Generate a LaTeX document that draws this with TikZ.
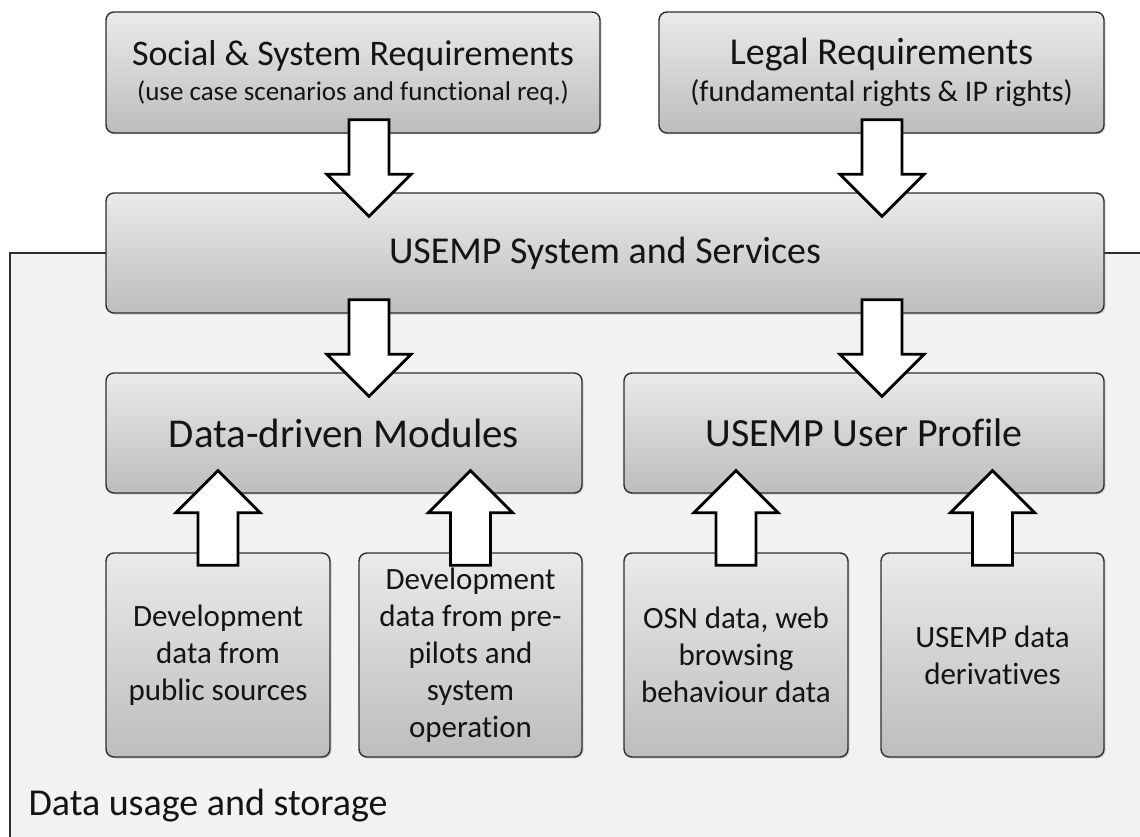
\documentclass[tikz,border=0pt]{standalone}
\usepackage{fontspec}
\setmainfont[Ligatures={NoCommon,NoRare}]{Carlito}
\usetikzlibrary{calc,shadows}
\definecolor{boxtop}{HTML}{EAEAEA}
\definecolor{boxbot}{HTML}{BDBDBD}
\definecolor{framebg}{HTML}{F2F2F2}
\definecolor{edge}{HTML}{2E2E2E}
\definecolor{ink}{HTML}{141414}
\tikzset{
  boxnode/.style={draw=edge,line width=1.4pt,rounded corners=8pt,top color=boxtop,bottom color=boxbot,
    text=ink,align=center,inner sep=0pt,
    drop shadow={shadow xshift=1.5pt,shadow yshift=-1.5pt,opacity=.3}},
  headfont/.style={font=\fontsize{#1}{42}\selectfont},
  headfont/.default=38,
  srcfont/.style={font=\fontsize{31}{37}\selectfont},
  blockarr/.style={draw=black,line width=2.8pt,fill=white,line join=miter},
}
% fat outlined arrow from #1 to #2
\newcommand\blockarrow[2]{%
  \coordinate (ba) at #1;
  \coordinate (bb) at #2;
  \coordinate (bh) at ($(bb)!42pt!(ba)$);
  \draw[blockarr] ($(ba)!20pt!90:(bb)$) -- ($(bh)!20pt!90:(bb)$) -- ($(bh)!42pt!90:(bb)$) -- (bb)
    -- ($(bh)!42pt!-90:(bb)$) -- ($(bh)!20pt!-90:(bb)$) -- ($(ba)!20pt!-90:(bb)$) -- cycle;}

\begin{document}
\begin{tikzpicture}[x=1pt,y=-1pt]
\useasboundingbox (0,0) rectangle (1140,837);
% data usage frame
\fill[framebg] (10,253) rectangle (1140,837);
\draw[edge,line width=1.2pt] (10,837) -- (10,253) -- (1140,253);
\node[anchor=west,text=ink,headfont] (store) at (25,806) {Data usage and storage};

% requirements
\node[boxnode,minimum width=494pt,minimum height=121pt,font=\fontsize{27}{35}\selectfont] (soc) at (353,72.5)
  {{\fontsize{36}{36}\selectfont Social \& System Requirements}\\(use case scenarios and functional req.)};
\node[boxnode,minimum width=445pt,minimum height=121pt,font=\fontsize{30}{37}\selectfont] (legal) at (881.5,72.5)
  {{\fontsize{38}{38}\selectfont Legal Requirements}\\(fundamental rights \& IP rights)};

% system
\node[boxnode,minimum width=998pt,minimum height=120pt,headfont] (sys) at (605,253) {USEMP System and Services};
\node[boxnode,minimum width=476pt,minimum height=120pt,headfont=41] (ddm) at (344,433) {Data-driven Modules};
\node[boxnode,minimum width=480pt,minimum height=120pt,headfont=40] (prof) at (864,433) {USEMP User Profile};

% data sources
\node[boxnode,minimum width=224pt,minimum height=204pt,srcfont] (src1) at (218,655) {Development\\data from\\public sources};
\node[boxnode,minimum width=223pt,minimum height=204pt,srcfont] (src2) at (470.5,655) {Development\\data from pre-\\pilots and\\system\\operation};
\node[boxnode,minimum width=224pt,minimum height=204pt,srcfont] (src3) at (736,655) {OSN data, web\\browsing\\behaviour data};
\node[boxnode,minimum width=223pt,minimum height=204pt,srcfont] (src4) at (992.5,655) {USEMP data\\derivatives};

% arrows
\coordinate (lx) at (369,0);
\coordinate (rx) at (882,0);
\blockarrow{($(lx |- soc.south)+(0,-14)$)}{($(lx |- sys.north)+(0,24)$)}
\blockarrow{($(rx |- legal.south)+(0,-14)$)}{($(rx |- sys.north)+(0,24)$)}
\blockarrow{($(lx |- sys.south)+(0,-14)$)}{($(lx |- ddm.north)+(0,24)$)}
\blockarrow{($(rx |- sys.south)+(0,-14)$)}{($(rx |- prof.north)+(0,24)$)}
\foreach \s/\t in {src1/ddm,src2/ddm,src3/prof,src4/prof}
  \blockarrow{($(\s.north)+(0,13)$)}{($(\s.north |- \t.south)+(0,-23)$)};
\end{tikzpicture}
\end{document}
